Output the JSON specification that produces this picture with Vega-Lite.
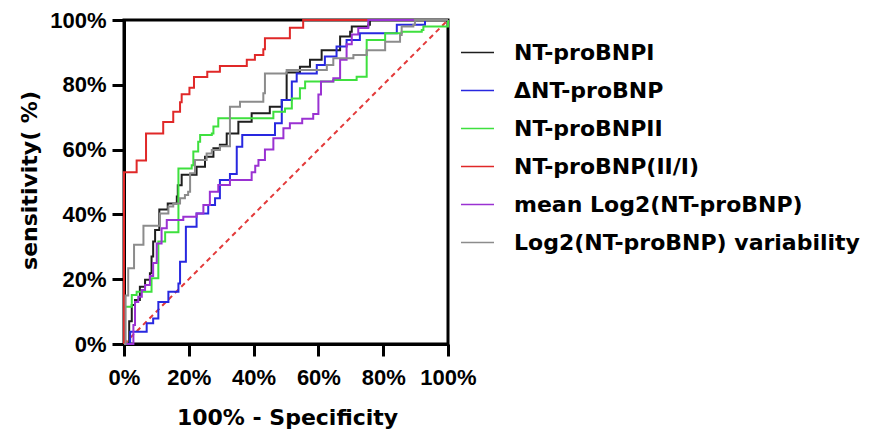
{
  "$schema": "https://vega.github.io/schema/vega-lite/v6.json",
  "width": 324,
  "height": 324,
  "autosize": "none",
  "padding": {"left": 124, "top": 20, "right": 424, "bottom": 86},
  "background": "white",
  "config": {
    "view": {"stroke": "black", "strokeWidth": 3},
    "axis": {
      "grid": false,
      "domainColor": "black",
      "domainWidth": 3,
      "tickColor": "black",
      "tickWidth": 3,
      "tickSize": 12,
      "labelFont": "Liberation Sans",
      "labelFontSize": 22,
      "labelFontWeight": "bold",
      "labelColor": "black",
      "labelOverlap": false,
      "labelFlush": false,
      "titleFont": "DejaVu Sans",
      "titleFontSize": 22,
      "titleFontWeight": "bold",
      "titleColor": "black"
    },
    "legend": {
      "labelFont": "DejaVu Sans",
      "labelFontSize": 22,
      "labelFontWeight": "bold",
      "labelColor": "black",
      "labelLimit": 500
    }
  },
  "datasets": {
    "diag": [{"x": 0, "y": 0}, {"x": 100, "y": 100}],
    "roc": [
      {"s": "NT-proBNPI", "i": 0, "x": 0, "y": 0},
      {"s": "NT-proBNPI", "i": 1, "x": 1.6, "y": 7},
      {"s": "NT-proBNPI", "i": 2, "x": 2.4, "y": 12},
      {"s": "NT-proBNPI", "i": 3, "x": 3.4, "y": 13.6},
      {"s": "NT-proBNPI", "i": 4, "x": 4.9, "y": 17.7},
      {"s": "NT-proBNPI", "i": 5, "x": 6.5, "y": 19.8},
      {"s": "NT-proBNPI", "i": 6, "x": 8, "y": 21.8},
      {"s": "NT-proBNPI", "i": 7, "x": 8.5, "y": 27},
      {"s": "NT-proBNPI", "i": 8, "x": 9, "y": 31.6},
      {"s": "NT-proBNPI", "i": 9, "x": 9.6, "y": 35.2},
      {"s": "NT-proBNPI", "i": 10, "x": 10.9, "y": 41.5},
      {"s": "NT-proBNPI", "i": 11, "x": 13.5, "y": 43.4},
      {"s": "NT-proBNPI", "i": 12, "x": 16.3, "y": 45.5},
      {"s": "NT-proBNPI", "i": 13, "x": 16.6, "y": 49},
      {"s": "NT-proBNPI", "i": 14, "x": 17.8, "y": 52.2},
      {"s": "NT-proBNPI", "i": 15, "x": 22.4, "y": 54.7},
      {"s": "NT-proBNPI", "i": 16, "x": 25, "y": 57.8},
      {"s": "NT-proBNPI", "i": 17, "x": 27.6, "y": 60.4},
      {"s": "NT-proBNPI", "i": 18, "x": 29.6, "y": 61.5},
      {"s": "NT-proBNPI", "i": 19, "x": 31.7, "y": 65},
      {"s": "NT-proBNPI", "i": 20, "x": 35.3, "y": 68.6},
      {"s": "NT-proBNPI", "i": 21, "x": 39.4, "y": 71.2},
      {"s": "NT-proBNPI", "i": 22, "x": 45, "y": 73.2},
      {"s": "NT-proBNPI", "i": 23, "x": 48.7, "y": 75.3},
      {"s": "NT-proBNPI", "i": 24, "x": 50.2, "y": 83.8},
      {"s": "NT-proBNPI", "i": 25, "x": 54.3, "y": 85.6},
      {"s": "NT-proBNPI", "i": 26, "x": 57.4, "y": 87.7},
      {"s": "NT-proBNPI", "i": 27, "x": 61, "y": 90.7},
      {"s": "NT-proBNPI", "i": 28, "x": 66.7, "y": 94.9},
      {"s": "NT-proBNPI", "i": 29, "x": 69.8, "y": 96.4},
      {"s": "NT-proBNPI", "i": 30, "x": 70.3, "y": 98},
      {"s": "NT-proBNPI", "i": 31, "x": 75.4, "y": 98.5},
      {"s": "NT-proBNPI", "i": 32, "x": 75.9, "y": 100},
      {"s": "NT-proBNPI", "i": 33, "x": 100, "y": 100},

      {"s": "ΔNT-proBNP", "i": 0, "x": 0, "y": 0},
      {"s": "ΔNT-proBNP", "i": 1, "x": 1.9, "y": 3.8},
      {"s": "ΔNT-proBNP", "i": 2, "x": 7, "y": 6.4},
      {"s": "ΔNT-proBNP", "i": 3, "x": 9, "y": 7.9},
      {"s": "ΔNT-proBNP", "i": 4, "x": 10.6, "y": 13},
      {"s": "ΔNT-proBNP", "i": 5, "x": 13.7, "y": 16.1},
      {"s": "ΔNT-proBNP", "i": 6, "x": 16.8, "y": 18.7},
      {"s": "ΔNT-proBNP", "i": 7, "x": 17.3, "y": 25.4},
      {"s": "ΔNT-proBNP", "i": 8, "x": 19.1, "y": 36.2},
      {"s": "ΔNT-proBNP", "i": 9, "x": 22.4, "y": 40.3},
      {"s": "ΔNT-proBNP", "i": 10, "x": 26, "y": 42.9},
      {"s": "ΔNT-proBNP", "i": 11, "x": 28.1, "y": 45},
      {"s": "ΔNT-proBNP", "i": 12, "x": 29.6, "y": 50.6},
      {"s": "ΔNT-proBNP", "i": 13, "x": 32.7, "y": 52.5},
      {"s": "ΔNT-proBNP", "i": 14, "x": 34.8, "y": 60.9},
      {"s": "ΔNT-proBNP", "i": 15, "x": 36.5, "y": 64.5},
      {"s": "ΔNT-proBNP", "i": 16, "x": 46.6, "y": 68.1},
      {"s": "ΔNT-proBNP", "i": 17, "x": 48.7, "y": 75.3},
      {"s": "ΔNT-proBNP", "i": 18, "x": 51.8, "y": 81},
      {"s": "ΔNT-proBNP", "i": 19, "x": 53.3, "y": 83.5},
      {"s": "ΔNT-proBNP", "i": 20, "x": 59.5, "y": 86.1},
      {"s": "ΔNT-proBNP", "i": 21, "x": 62, "y": 88.7},
      {"s": "ΔNT-proBNP", "i": 22, "x": 65.6, "y": 91.8},
      {"s": "ΔNT-proBNP", "i": 23, "x": 68.7, "y": 93.8},
      {"s": "ΔNT-proBNP", "i": 24, "x": 72.8, "y": 95.9},
      {"s": "ΔNT-proBNP", "i": 25, "x": 84.2, "y": 98.5},
      {"s": "ΔNT-proBNP", "i": 26, "x": 92.9, "y": 100},
      {"s": "ΔNT-proBNP", "i": 27, "x": 100, "y": 100},

      {"s": "NT-proBNPII", "i": 0, "x": 0, "y": 0},
      {"s": "NT-proBNPII", "i": 1, "x": 0, "y": 11.5},
      {"s": "NT-proBNPII", "i": 2, "x": 2.4, "y": 15.1},
      {"s": "NT-proBNPII", "i": 3, "x": 3.9, "y": 16.1},
      {"s": "NT-proBNPII", "i": 4, "x": 8.5, "y": 20.3},
      {"s": "NT-proBNPII", "i": 5, "x": 10.6, "y": 31.6},
      {"s": "NT-proBNPII", "i": 6, "x": 12.7, "y": 34.5},
      {"s": "NT-proBNPII", "i": 7, "x": 16.8, "y": 54.2},
      {"s": "NT-proBNPII", "i": 8, "x": 20.9, "y": 55.2},
      {"s": "NT-proBNPII", "i": 9, "x": 21.4, "y": 59.4},
      {"s": "NT-proBNPII", "i": 10, "x": 22.9, "y": 62.4},
      {"s": "NT-proBNPII", "i": 11, "x": 23.5, "y": 64.5},
      {"s": "NT-proBNPII", "i": 12, "x": 27.1, "y": 65},
      {"s": "NT-proBNPII", "i": 13, "x": 27.6, "y": 67.1},
      {"s": "NT-proBNPII", "i": 14, "x": 29.1, "y": 69.7},
      {"s": "NT-proBNPII", "i": 15, "x": 46.1, "y": 71.7},
      {"s": "NT-proBNPII", "i": 16, "x": 49.7, "y": 72.7},
      {"s": "NT-proBNPII", "i": 17, "x": 51.8, "y": 75.8},
      {"s": "NT-proBNPII", "i": 18, "x": 54.3, "y": 78.9},
      {"s": "NT-proBNPII", "i": 19, "x": 55.9, "y": 81},
      {"s": "NT-proBNPII", "i": 20, "x": 64.6, "y": 81.5},
      {"s": "NT-proBNPII", "i": 21, "x": 71.8, "y": 82.5},
      {"s": "NT-proBNPII", "i": 22, "x": 74.9, "y": 93.8},
      {"s": "NT-proBNPII", "i": 23, "x": 80.6, "y": 95.9},
      {"s": "NT-proBNPII", "i": 24, "x": 85.7, "y": 96.4},
      {"s": "NT-proBNPII", "i": 25, "x": 91.9, "y": 96.9},
      {"s": "NT-proBNPII", "i": 26, "x": 92.4, "y": 98},
      {"s": "NT-proBNPII", "i": 27, "x": 100, "y": 100},

      {"s": "NT-proBNP(II/I)", "i": 0, "x": 0, "y": 0},
      {"s": "NT-proBNP(II/I)", "i": 1, "x": 0, "y": 53},
      {"s": "NT-proBNP(II/I)", "i": 2, "x": 3.9, "y": 56.6},
      {"s": "NT-proBNP(II/I)", "i": 3, "x": 6.8, "y": 65},
      {"s": "NT-proBNP(II/I)", "i": 4, "x": 12.1, "y": 68.5},
      {"s": "NT-proBNP(II/I)", "i": 5, "x": 15.2, "y": 71.7},
      {"s": "NT-proBNP(II/I)", "i": 6, "x": 17.3, "y": 74.6},
      {"s": "NT-proBNP(II/I)", "i": 7, "x": 17.8, "y": 77.1},
      {"s": "NT-proBNP(II/I)", "i": 8, "x": 20.2, "y": 79.1},
      {"s": "NT-proBNP(II/I)", "i": 9, "x": 21.6, "y": 82.4},
      {"s": "NT-proBNP(II/I)", "i": 10, "x": 25.7, "y": 84},
      {"s": "NT-proBNP(II/I)", "i": 11, "x": 29.6, "y": 85.8},
      {"s": "NT-proBNP(II/I)", "i": 12, "x": 37.9, "y": 87.7},
      {"s": "NT-proBNP(II/I)", "i": 13, "x": 40.4, "y": 89.2},
      {"s": "NT-proBNP(II/I)", "i": 14, "x": 43, "y": 91},
      {"s": "NT-proBNP(II/I)", "i": 15, "x": 43.5, "y": 94.4},
      {"s": "NT-proBNP(II/I)", "i": 16, "x": 51.2, "y": 97.6},
      {"s": "NT-proBNP(II/I)", "i": 17, "x": 55.3, "y": 100},
      {"s": "NT-proBNP(II/I)", "i": 18, "x": 100, "y": 100},

      {"s": "mean Log2(NT-proBNP)", "i": 0, "x": 0, "y": 0},
      {"s": "mean Log2(NT-proBNP)", "i": 1, "x": 1.9, "y": 0},
      {"s": "mean Log2(NT-proBNP)", "i": 2, "x": 2.9, "y": 5.9},
      {"s": "mean Log2(NT-proBNP)", "i": 3, "x": 3.4, "y": 13},
      {"s": "mean Log2(NT-proBNP)", "i": 4, "x": 4.4, "y": 14.6},
      {"s": "mean Log2(NT-proBNP)", "i": 5, "x": 5.5, "y": 16.7},
      {"s": "mean Log2(NT-proBNP)", "i": 6, "x": 6.5, "y": 18.2},
      {"s": "mean Log2(NT-proBNP)", "i": 7, "x": 8, "y": 21},
      {"s": "mean Log2(NT-proBNP)", "i": 8, "x": 9, "y": 25},
      {"s": "mean Log2(NT-proBNP)", "i": 9, "x": 10.1, "y": 31},
      {"s": "mean Log2(NT-proBNP)", "i": 10, "x": 11.6, "y": 35.7},
      {"s": "mean Log2(NT-proBNP)", "i": 11, "x": 13.2, "y": 38.3},
      {"s": "mean Log2(NT-proBNP)", "i": 12, "x": 18.3, "y": 39.3},
      {"s": "mean Log2(NT-proBNP)", "i": 13, "x": 22.4, "y": 40.3},
      {"s": "mean Log2(NT-proBNP)", "i": 14, "x": 24.5, "y": 42.9},
      {"s": "mean Log2(NT-proBNP)", "i": 15, "x": 26.5, "y": 47},
      {"s": "mean Log2(NT-proBNP)", "i": 16, "x": 29.1, "y": 49.1},
      {"s": "mean Log2(NT-proBNP)", "i": 17, "x": 32.7, "y": 50.6},
      {"s": "mean Log2(NT-proBNP)", "i": 18, "x": 39.4, "y": 53},
      {"s": "mean Log2(NT-proBNP)", "i": 19, "x": 40.5, "y": 55},
      {"s": "mean Log2(NT-proBNP)", "i": 20, "x": 41.5, "y": 56.8},
      {"s": "mean Log2(NT-proBNP)", "i": 21, "x": 43.5, "y": 60},
      {"s": "mean Log2(NT-proBNP)", "i": 22, "x": 46.1, "y": 63.5},
      {"s": "mean Log2(NT-proBNP)", "i": 23, "x": 49.2, "y": 66.6},
      {"s": "mean Log2(NT-proBNP)", "i": 24, "x": 51.2, "y": 68.1},
      {"s": "mean Log2(NT-proBNP)", "i": 25, "x": 55, "y": 69.5},
      {"s": "mean Log2(NT-proBNP)", "i": 26, "x": 58.4, "y": 71},
      {"s": "mean Log2(NT-proBNP)", "i": 27, "x": 60, "y": 77},
      {"s": "mean Log2(NT-proBNP)", "i": 28, "x": 60.8, "y": 81},
      {"s": "mean Log2(NT-proBNP)", "i": 29, "x": 64.6, "y": 82},
      {"s": "mean Log2(NT-proBNP)", "i": 30, "x": 66.7, "y": 87.7},
      {"s": "mean Log2(NT-proBNP)", "i": 31, "x": 68.7, "y": 92.5},
      {"s": "mean Log2(NT-proBNP)", "i": 32, "x": 70.3, "y": 95.5},
      {"s": "mean Log2(NT-proBNP)", "i": 33, "x": 72.3, "y": 97.5},
      {"s": "mean Log2(NT-proBNP)", "i": 34, "x": 75.4, "y": 100},
      {"s": "mean Log2(NT-proBNP)", "i": 35, "x": 100, "y": 100},

      {"s": "Log2(NT-proBNP) variability", "i": 0, "x": 0, "y": 0},
      {"s": "Log2(NT-proBNP) variability", "i": 1, "x": 0.5, "y": 15},
      {"s": "Log2(NT-proBNP) variability", "i": 2, "x": 1.3, "y": 23.4},
      {"s": "Log2(NT-proBNP) variability", "i": 3, "x": 3.1, "y": 30.6},
      {"s": "Log2(NT-proBNP) variability", "i": 4, "x": 6, "y": 36.5},
      {"s": "Log2(NT-proBNP) variability", "i": 5, "x": 11.1, "y": 40.3},
      {"s": "Log2(NT-proBNP) variability", "i": 6, "x": 13.7, "y": 42.4},
      {"s": "Log2(NT-proBNP) variability", "i": 7, "x": 15.2, "y": 43.4},
      {"s": "Log2(NT-proBNP) variability", "i": 8, "x": 17.3, "y": 45},
      {"s": "Log2(NT-proBNP) variability", "i": 9, "x": 18.8, "y": 46},
      {"s": "Log2(NT-proBNP) variability", "i": 10, "x": 19.8, "y": 47},
      {"s": "Log2(NT-proBNP) variability", "i": 11, "x": 20.4, "y": 52.7},
      {"s": "Log2(NT-proBNP) variability", "i": 12, "x": 21.9, "y": 56.8},
      {"s": "Log2(NT-proBNP) variability", "i": 13, "x": 25.5, "y": 58.8},
      {"s": "Log2(NT-proBNP) variability", "i": 14, "x": 27.1, "y": 59.9},
      {"s": "Log2(NT-proBNP) variability", "i": 15, "x": 29.6, "y": 61},
      {"s": "Log2(NT-proBNP) variability", "i": 16, "x": 32.7, "y": 63},
      {"s": "Log2(NT-proBNP) variability", "i": 17, "x": 32.7, "y": 73.2},
      {"s": "Log2(NT-proBNP) variability", "i": 18, "x": 35.8, "y": 74.8},
      {"s": "Log2(NT-proBNP) variability", "i": 19, "x": 43, "y": 77.4},
      {"s": "Log2(NT-proBNP) variability", "i": 20, "x": 43.5, "y": 83.5},
      {"s": "Log2(NT-proBNP) variability", "i": 21, "x": 50.2, "y": 84.6},
      {"s": "Log2(NT-proBNP) variability", "i": 22, "x": 62.6, "y": 86.1},
      {"s": "Log2(NT-proBNP) variability", "i": 23, "x": 64.6, "y": 88.2},
      {"s": "Log2(NT-proBNP) variability", "i": 24, "x": 70.8, "y": 89.2},
      {"s": "Log2(NT-proBNP) variability", "i": 25, "x": 74.9, "y": 90.7},
      {"s": "Log2(NT-proBNP) variability", "i": 26, "x": 80.6, "y": 93.3},
      {"s": "Log2(NT-proBNP) variability", "i": 27, "x": 85.2, "y": 95.4},
      {"s": "Log2(NT-proBNP) variability", "i": 28, "x": 85.7, "y": 98},
      {"s": "Log2(NT-proBNP) variability", "i": 29, "x": 89.3, "y": 98.5},
      {"s": "Log2(NT-proBNP) variability", "i": 30, "x": 89.8, "y": 100},
      {"s": "Log2(NT-proBNP) variability", "i": 31, "x": 100, "y": 100}
    ]
  },
  "encoding": {
    "x": {
      "field": "x",
      "type": "quantitative",
      "scale": {"domain": [0, 100], "nice": false, "zero": false},
      "axis": {
        "values": [0, 20, 40, 60, 80, 100],
        "labelExpr": "datum.value + '%'",
        "labelPadding": 11,
        "title": "100% - Specificity",
        "titleX": 163,
        "titleY": 80,
        "titleAlign": "center",
        "titleBaseline": "alphabetic"
      }
    },
    "y": {
      "field": "y",
      "type": "quantitative",
      "scale": {"domain": [0, 100], "nice": false, "zero": false},
      "axis": {
        "values": [0, 20, 40, 60, 80, 100],
        "labelExpr": "datum.value + '%'",
        "labelPadding": 6,
        "title": "sensitivity( %)",
        "titleX": -95,
        "titleY": 160,
        "titleAngle": 270,
        "titleAlign": "center",
        "titleBaseline": "middle"
      }
    }
  },
  "layer": [
    {
      "data": {"name": "diag"},
      "mark": {"type": "line", "stroke": "#e33a3a", "strokeDash": [5, 4], "strokeWidth": 2}
    },
    {
      "data": {"name": "roc"},
      "mark": {"type": "line", "interpolate": "step-after", "strokeWidth": 2},
      "encoding": {
        "order": {"field": "i", "type": "quantitative"},
        "color": {
          "field": "s",
          "type": "nominal",
          "scale": {
            "domain": ["NT-proBNPI", "ΔNT-proBNP", "NT-proBNPII", "NT-proBNP(II/I)", "mean Log2(NT-proBNP)", "Log2(NT-proBNP) variability"],
            "range": ["#1e1e1e", "#2828e0", "#3ee03e", "#e02828", "#9a32d2", "#8c8c8c"]
          },
          "legend": {
            "orient": "none",
            "legendX": 336,
            "legendY": 15,
            "title": null,
            "padding": 0,
            "symbolType": "stroke",
            "symbolSize": 1089,
            "symbolStrokeWidth": 1.5,
            "labelOffset": 19,
            "rowPadding": 9
          }
        }
      }
    }
  ]
}
